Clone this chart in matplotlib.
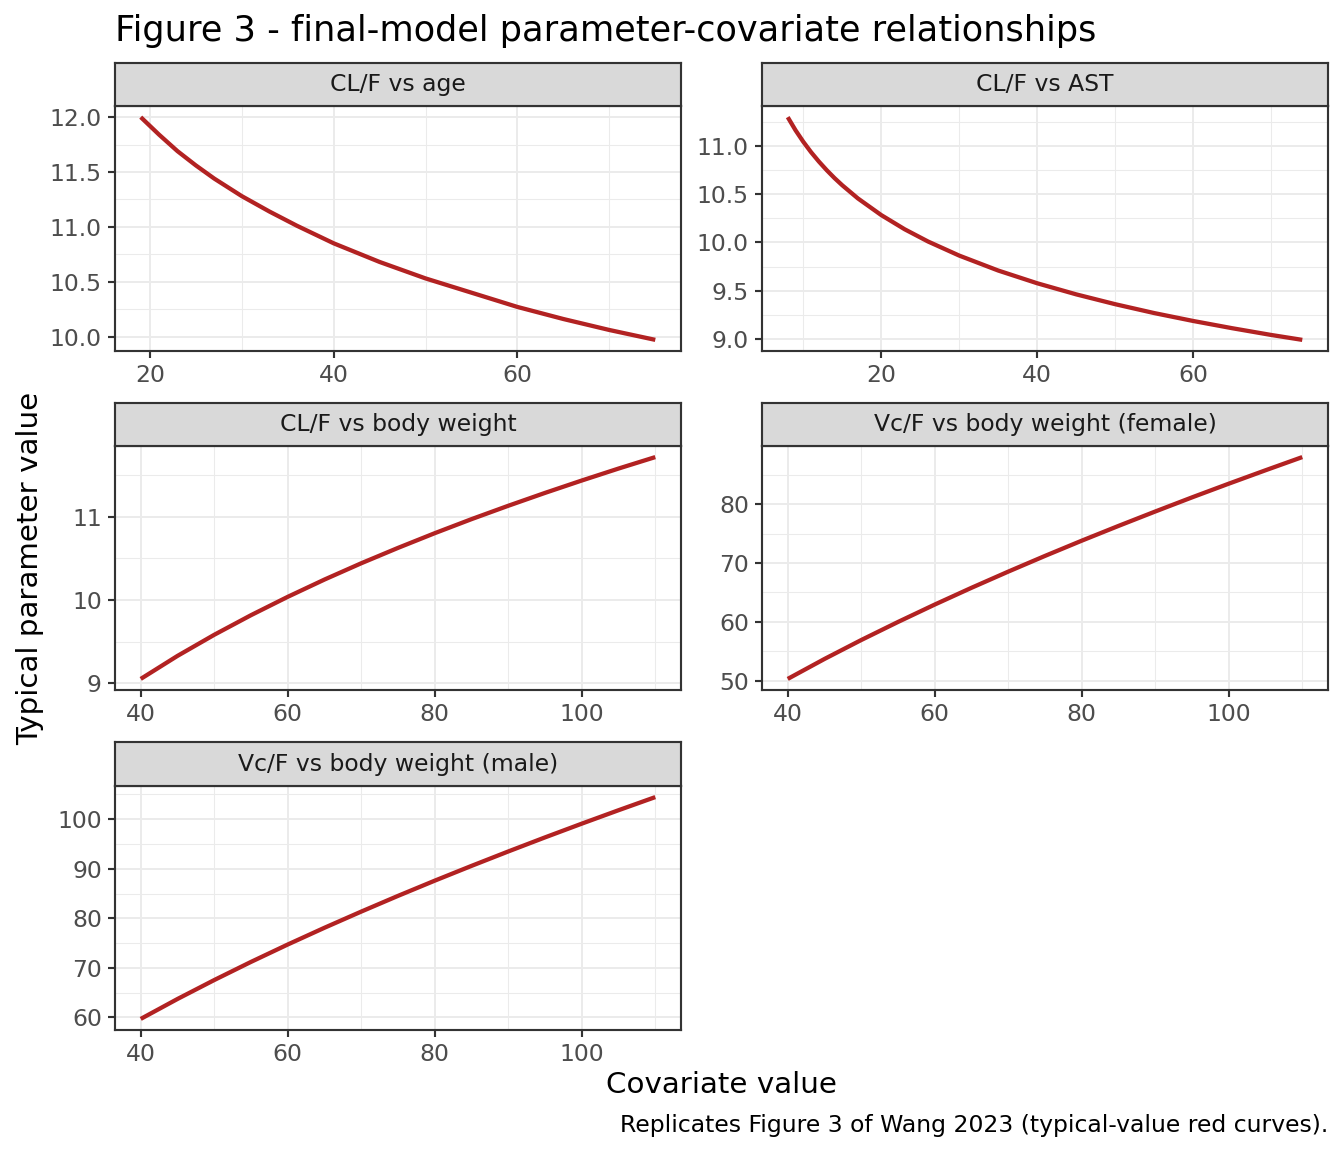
import matplotlib
matplotlib.use("Agg")
import matplotlib.pyplot as plt
from matplotlib.ticker import MultipleLocator, FormatStrFormatter

# values
age = [19, 21, 23, 25, 27, 30, 33, 36, 40, 45, 50, 55, 60, 65, 70, 75]
cl_age = [12.00, 11.84, 11.69, 11.56, 11.44, 11.28, 11.14, 11.01, 10.85,
          10.68, 10.53, 10.40, 10.27, 10.16, 10.06, 9.97]

ast = [8, 9, 10, 11, 12, 13, 14, 15, 17, 20, 23, 26, 30, 35, 40, 45, 50,
       55, 60, 65, 70, 74]
cl_ast = [11.30, 11.164, 11.044, 10.936, 10.839, 10.750, 10.668, 10.593,
          10.457, 10.284, 10.137, 10.010, 9.864, 9.709, 9.577, 9.462,
          9.360, 9.268, 9.186, 9.111, 9.041, 8.990]

wt = [40, 45, 50, 55, 60, 65, 70, 75, 80, 85, 90, 95, 100, 105, 110]
cl_wt = [9.05, 9.327, 9.581, 9.817, 10.038, 10.246, 10.442, 10.627, 10.804,
         10.973, 11.134, 11.289, 11.438, 11.582, 11.720]
vc_female = [50.3, 53.69, 56.91, 59.98, 62.94, 65.79, 68.54, 71.21, 73.80,
             76.31, 78.76, 81.16, 83.49, 85.77, 88.01]
vc_male = [59.7, 63.72, 67.54, 71.20, 74.71, 78.09, 81.35, 84.52, 87.59,
           90.57, 93.48, 96.32, 99.09, 101.80, 104.45]

panel_titles = ['CL/F vs age', 'CL/F vs AST', 'CL/F vs body weight',
                'Vc/F vs body weight (female)', 'Vc/F vs body weight (male)']
panel_x = [age, ast, wt, wt, wt]
panel_y = [cl_age, cl_ast, cl_wt, vc_female, vc_male]
y_steps = [0.5, 0.5, 1, 10, 10]
y_fmts = ['%.1f', '%.1f', '%d', '%d', '%d']

W, H = 1344, 1152
fig = plt.figure(figsize=(7, 6), dpi=192)
plt.rcParams['font.family'] = 'DejaVu Sans'

# panel boxes in pixels: left, right / strip top, plot top, plot bottom
cols = [(115, 681), (762, 1328)]
rows = [(63, 106, 351), (403, 446, 690), (742, 786, 1030)]

dark = '#333333'
lw_rect = 0.8

for i in range(5):
    x0, x1 = cols[i % 2]
    st, pt, pb = rows[i // 2]
    ax = fig.add_axes([x0 / W, 1 - pb / H, (x1 - x0) / W, (pb - pt) / H])
    sax = fig.add_axes([x0 / W, 1 - pt / H, (x1 - x0) / W, (pt - st) / H])

    # strip on top of each panel
    sax.set_facecolor('#D9D9D9')
    sax.set_xticks([])
    sax.set_yticks([])
    for s in sax.spines.values():
        s.set_color(dark)
        s.set_linewidth(lw_rect)
    sax.text(0.5, 0.5, panel_titles[i], ha='center', va='center',
             fontsize=8.8, color='#1A1A1A', transform=sax.transAxes)

    # typical-value curve
    ax.plot(panel_x[i], panel_y[i], color='#B22222', lw=1.6,
            solid_capstyle='butt', solid_joinstyle='round', zorder=3)
    ax.margins(0.05)

    ax.xaxis.set_major_locator(MultipleLocator(20))
    ax.xaxis.set_minor_locator(MultipleLocator(10))
    ax.yaxis.set_major_locator(MultipleLocator(y_steps[i]))
    ax.yaxis.set_minor_locator(MultipleLocator(y_steps[i] / 2))
    ax.yaxis.set_major_formatter(FormatStrFormatter(y_fmts[i]))

    ax.grid(which='major', color='#EBEBEB', lw=0.75)
    ax.grid(which='minor', color='#EBEBEB', lw=0.4)
    ax.set_axisbelow(True)
    ax.tick_params(which='major', length=2.75, width=lw_rect, color=dark,
                   labelcolor='#4D4D4D', labelsize=8.8, pad=2.2)
    ax.tick_params(which='minor', length=0)
    for s in ax.spines.values():
        s.set_color(dark)
        s.set_linewidth(lw_rect)

fig.text(115 / W, 1 - 41 / H, 'Figure 3 - final-model parameter-covariate relationships',
         ha='left', va='baseline', fontsize=13.2, color='black')
fig.text(721 / W, 1 - 1085 / H, 'Covariate value', ha='center', va='center',
         fontsize=11, color='black')
fig.text(30 / W, 1 - 568 / H, 'Typical parameter value', ha='center', va='center',
         rotation=90, fontsize=11, color='black')
fig.text(1328 / W, 1 - 1132 / H,
         'Replicates Figure 3 of Wang 2023 (typical-value red curves).',
         ha='right', va='baseline', fontsize=8.8, color='black')

fig.savefig('out.png', dpi=192, facecolor='white')
